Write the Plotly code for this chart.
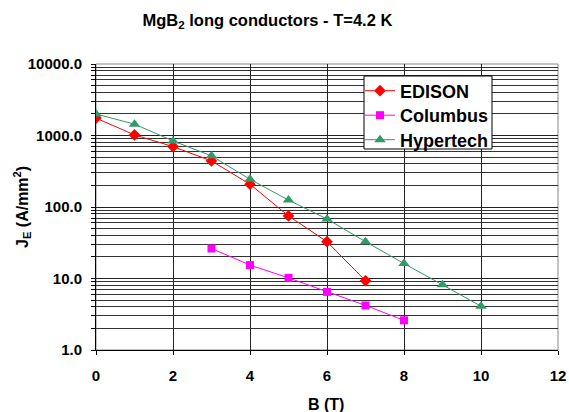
import plotly.graph_objects as go

edison_x = [0, 1, 2, 3, 4, 5, 6, 7]
edison_y = [1750, 1020, 700, 441, 208, 75, 32.7, 9.3]

columbus_x = [3, 4, 5, 6, 7, 8]
columbus_y = [26.3, 15.4, 10.2, 6.5, 4.2, 2.6]

hyper_x = [0, 1, 2, 3, 4, 5, 6, 7, 8, 9, 10]
hyper_y = [2000, 1440, 840, 519, 244, 125, 68, 32.7, 16.2, 8.2, 4.1]

y_ticks = [1, 10, 100, 1000, 10000]
y_ticktext = ["1.0", "10.0", "100.0", "1000.0", "10000.0"]
minor_vals = [m * d for d in [1, 10, 100, 1000] for m in range(2, 10)]

FONT = "Liberation Sans, Arial, sans-serif"

# plot area in pixels
PL, PR, PT, PB = 96, 558, 64, 350
W, H = 569, 412


def px_x(x):
    return (x - PL) / (PR - PL)


def px_y(y):
    return (PB - y) / (PB - PT)


fig = go.Figure()
fig.add_trace(go.Scatter(x=edison_x, y=edison_y, name="EDISON", mode="lines+markers",
                         legend="legend",
                         line=dict(color="#ff0000", width=1),
                         marker=dict(symbol="diamond", size=9, color="#ff0000")))
fig.add_trace(go.Scatter(x=columbus_x, y=columbus_y, name="Columbus", mode="lines+markers",
                         legend="legend2",
                         line=dict(color="#ff00ff", width=1),
                         marker=dict(symbol="square", size=8, color="#ff00ff")))
fig.add_trace(go.Scatter(x=hyper_x, y=hyper_y, name="Hypertech", mode="lines+markers",
                         legend="legend3",
                         line=dict(color="#339966", width=1),
                         marker=dict(symbol="triangle-up", size=10, color="#339966")))

leg_common = dict(x=px_x(360), xanchor="left", yanchor="middle",
                  bgcolor="rgba(0,0,0,0)", borderwidth=0,
                  font=dict(size=18, family=FONT, weight="bold"), itemwidth=30)

fig.update_layout(
    width=W, height=H,
    paper_bgcolor="white", plot_bgcolor="white",
    margin=dict(l=PL, r=W - PR, t=PT, b=H - PB, autoexpand=False),
    font=dict(family=FONT, color="black", size=12),
    title=dict(text="<b>MgB<sub>2</sub> long conductors - T=4.2 K</b>",
               x=0.47, xanchor="center", y=1 - 20 / H, yanchor="middle",
               font=dict(size=16.5, family=FONT)),
    showlegend=True,
    legend=dict(y=px_y(91), **leg_common),
    legend2=dict(y=px_y(115.5), **leg_common),
    legend3=dict(y=px_y(140), **leg_common),
    annotations=[
        dict(text="<b>B (T)</b>", xref="paper", yref="paper", x=px_x(326),
             y=px_y(404), xanchor="center", yanchor="middle", showarrow=False,
             font=dict(size=16, family=FONT)),
        dict(text="<b>J<sub>E</sub> (A/mm<sup>2</sup>)</b>", xref="paper", yref="paper",
             x=px_x(22), y=px_y(207), xanchor="center", yanchor="middle",
             textangle=-90, showarrow=False, font=dict(size=16, family=FONT)),
    ],
)

fig.update_xaxes(range=[0, 12], dtick=2, tick0=0, automargin=False,
                 showgrid=True, gridcolor="#222", gridwidth=1,
                 showline=True, linecolor="black", linewidth=1, mirror=False,
                 ticks="outside", ticklen=4, tickcolor="black",
                 ticklabeloverflow="allow", ticklabelstandoff=8,
                 tickfont=dict(size=15, family=FONT, weight="bold"),
                 zeroline=False)
fig.update_yaxes(type="log", range=[0, 4], automargin=False,
                 tickvals=y_ticks, ticktext=y_ticktext,
                 showgrid=True, gridcolor="#222", gridwidth=1,
                 showline=True, linecolor="black", linewidth=1,
                 ticks="outside", ticklen=4, tickcolor="black",
                 ticklabeloverflow="allow", ticklabelstandoff=6,
                 tickfont=dict(size=15, family=FONT, weight="bold"),
                 minor=dict(tickvals=minor_vals, showgrid=True, gridcolor="#333", gridwidth=1,
                            ticks="outside", ticklen=4, tickcolor="black"),
                 zeroline=False)

# grey border on top/right of plot area
fig.add_shape(type="rect", xref="paper", yref="paper", x0=0, y0=0, x1=1, y1=1,
              line=dict(color="#888", width=1), layer="below")
# legend box
fig.add_shape(type="rect", xref="paper", yref="paper",
              x0=px_x(364), x1=px_x(492), y0=px_y(149), y1=px_y(76),
              line=dict(color="black", width=1), fillcolor="white", layer="above")

fig.write_html("out.html", config={"displayModeBar": False},
               post_script="document.body.style.margin='0';document.body.style.overflow='hidden';")
